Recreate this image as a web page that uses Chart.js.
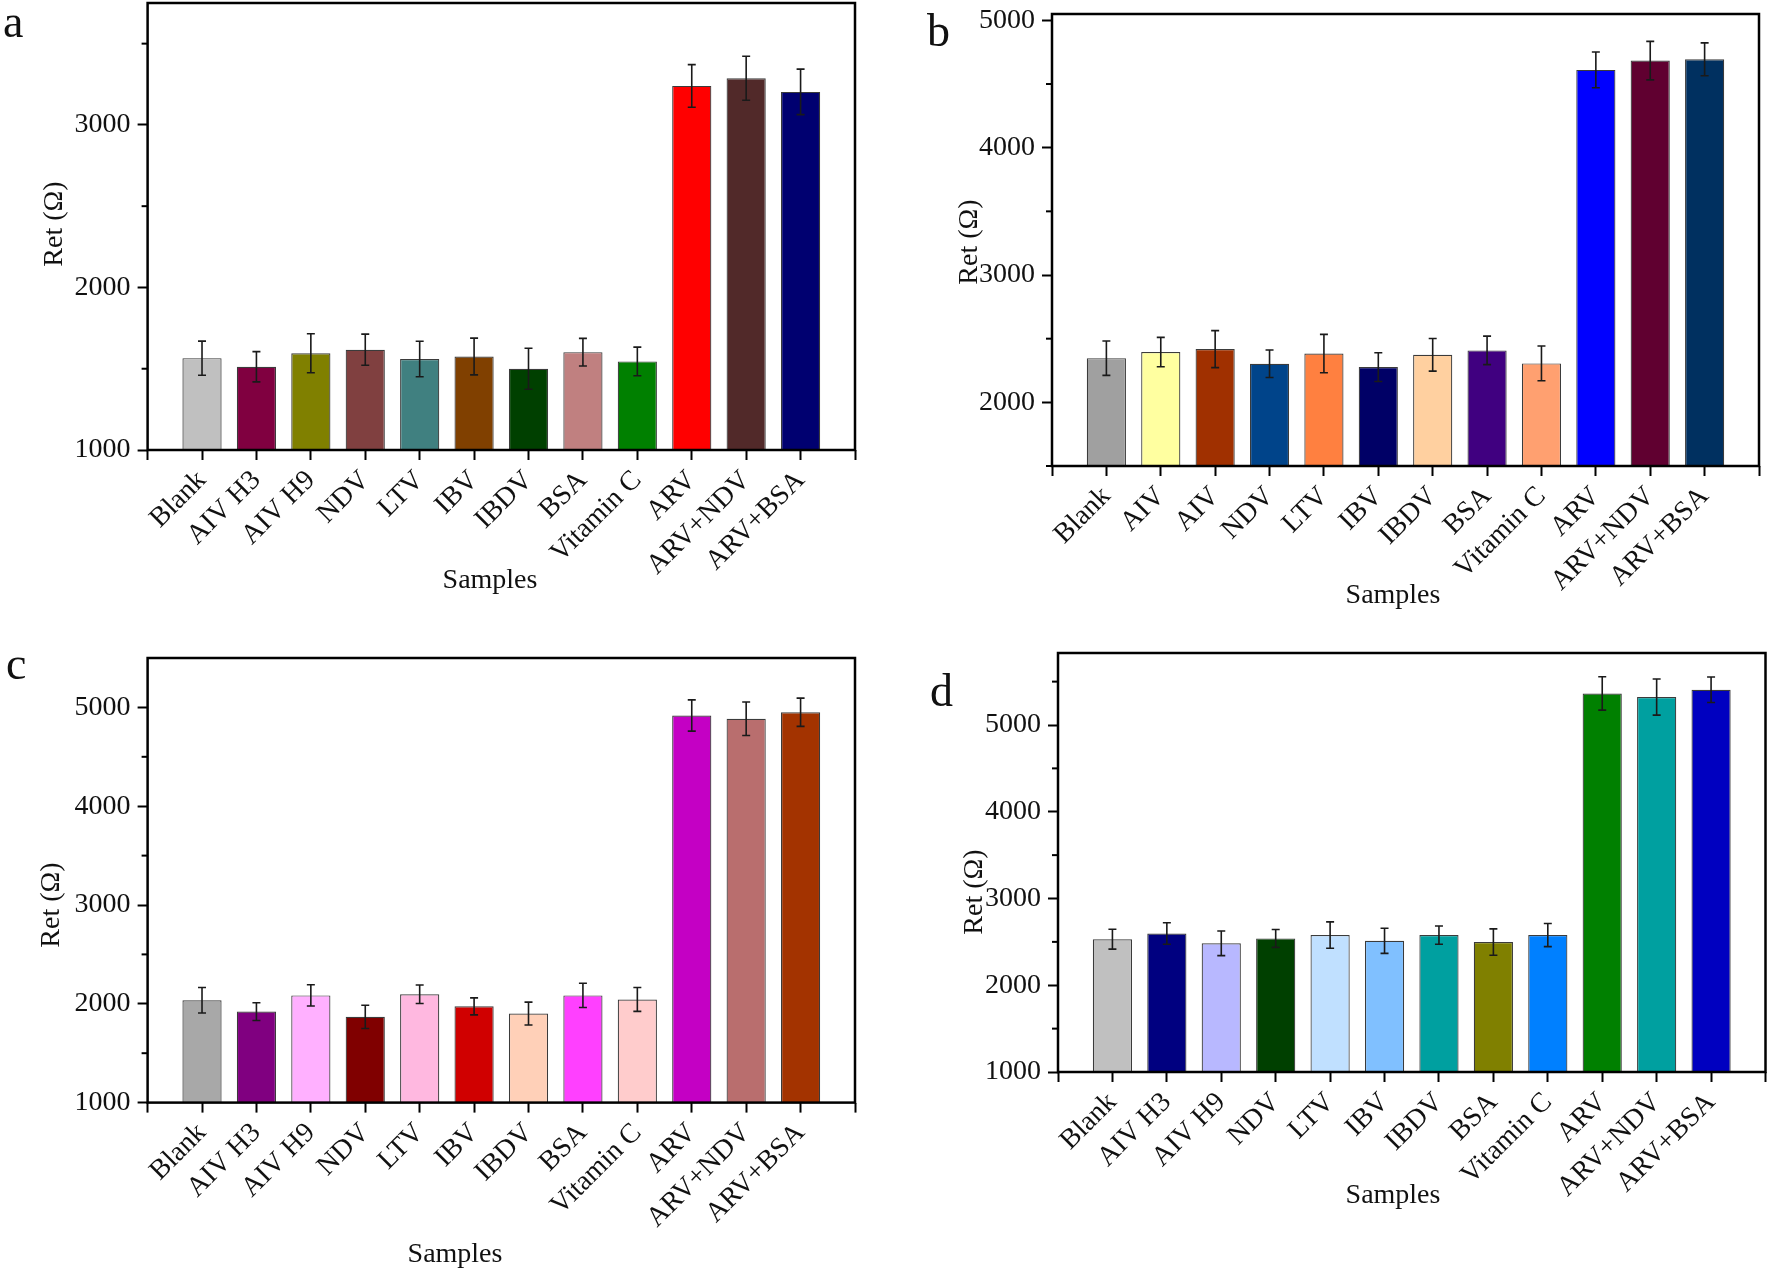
<!DOCTYPE html>
<html>
<head>
<meta charset="utf-8">
<script src="https://cdn.jsdelivr.net/npm/chart.js@4.4.0/dist/chart.umd.min.js"></script>
<style>
body { margin: 0; background: #fff; }
#wrap { position: relative; width: 1770px; height: 1274px; overflow: hidden; }
canvas { position: absolute; }
</style>
</head>
<body>
<div id="wrap">
  <canvas id="chart-a" width="885" height="637" style="left:0;top:0"></canvas>
  <canvas id="chart-b" width="885" height="637" style="left:885px;top:0"></canvas>
  <canvas id="chart-c" width="885" height="637" style="left:0;top:637px"></canvas>
  <canvas id="chart-d" width="885" height="637" style="left:885px;top:637px"></canvas>
</div>
<script>
const samples = ['Blank', 'AIV H3', 'AIV H9', 'NDV', 'LTV', 'IBV', 'IBDV', 'BSA', 'Vitamin C', 'ARV', 'ARV+NDV', 'ARV+BSA'];
const samplesB = ['Blank', 'AIV', 'AIV', 'NDV', 'LTV', 'IBV', 'IBDV', 'BSA', 'Vitamin C', 'ARV', 'ARV+NDV', 'ARV+BSA'];

const retA = [1565, 1512, 1595, 1617, 1560, 1575, 1500, 1602, 1545, 3240, 3287, 3203];
const errA = [105, 93, 120, 96, 109, 113, 126, 85, 88, 131, 135, 140];
const retB = [2347, 2395, 2418, 2303, 2383, 2277, 2373, 2408, 2306, 4611, 4684, 4694];
const errB = [135, 115, 145, 108, 151, 113, 128, 112, 137, 140, 151, 129];
const retC = [2036, 1921, 2085, 1868, 2097, 1974, 1901, 2085, 2044, 4918, 4885, 4951];
const errC = [129, 90, 108, 118, 94, 86, 116, 123, 121, 158, 170, 143];
const retD = [2531, 2596, 2484, 2540, 2578, 2512, 2578, 2498, 2578, 5364, 5322, 5406];
const errD = [115, 124, 142, 103, 152, 145, 105, 152, 133, 192, 208, 147];

const yTicksA = [1000, 2000, 3000];
const yTicksB = [2000, 3000, 4000, 5000];
const yTicksC = [1000, 2000, 3000, 4000, 5000];
const yTicksD = [1000, 2000, 3000, 4000, 5000];

const colorsA = ['#c0c0c0', '#800040', '#808000', '#804040', '#408080', '#804000', '#004000', '#c08080', '#008000', '#ff0000', '#512929', '#000070'];
const colorsB = ['#a0a0a0', '#ffffa0', '#a03000', '#00448a', '#ff8040', '#000066', '#ffd0a0', '#400080', '#ffa070', '#0000ff', '#600030', '#003060'];
const colorsC = ['#a8a8a8', '#800080', '#ffb0ff', '#800000', '#ffb8e0', '#d00000', '#ffd0b8', '#ff40ff', '#ffcccc', '#c400c4', '#b96e6e', '#a33300'];
const colorsD = ['#c0c0c0', '#000080', '#b8b8ff', '#004000', '#c0e0ff', '#80c0ff', '#00a0a0', '#808000', '#0080ff', '#008000', '#00a0a0', '#0000c0'];

const serif = '"Liberation Serif", "Times New Roman", serif';
Chart.defaults.font.family = serif;
Chart.defaults.color = '#111';

// everything Origin draws around the bars: error bars, frame, minor ticks, titles, panel letter
const panelDecor = {
    id: 'panelDecor',
    afterDatasetsDraw(chart, args, opts) {
        const p = opts.panel;
        const ctx = chart.ctx;
        const y = chart.scales.y;
        const area = chart.chartArea;
        const meta = chart.getDatasetMeta(0);
        ctx.save();

        ctx.strokeStyle = '#1a1a1a';
        ctx.lineWidth = 1.6;
        meta.data.forEach((bar, i) => {
            const hi = y.getPixelForValue(p.values[i] + p.errors[i]);
            const lo = y.getPixelForValue(p.values[i] - p.errors[i]);
            ctx.beginPath();
            ctx.moveTo(bar.x, hi); ctx.lineTo(bar.x, lo);
            ctx.moveTo(bar.x - 4, hi); ctx.lineTo(bar.x + 4, hi);
            ctx.moveTo(bar.x - 4, lo); ctx.lineTo(bar.x + 4, lo);
            ctx.stroke();
        });

        ctx.strokeStyle = '#000';
        ctx.lineWidth = 2.5;
        ctx.strokeRect(area.left, area.top, area.right - area.left, area.bottom - area.top);

        ctx.lineWidth = 2;
        for (let v = p.yMin; v < p.yMax; v += 500) {
            if (p.yTicks.includes(v)) continue;
            const py = y.getPixelForValue(v);
            ctx.beginPath();
            ctx.moveTo(area.left - 6, py); ctx.lineTo(area.left, py);
            ctx.stroke();
        }

        ctx.fillStyle = '#111';
        ctx.textAlign = 'center';
        ctx.textBaseline = 'middle';
        ctx.font = '28px ' + serif;
        ctx.fillText('Samples', p.xTitle[0], p.xTitle[1]);
        ctx.save();
        ctx.translate(p.yTitle[0], p.yTitle[1]);
        ctx.rotate(-Math.PI / 2);
        ctx.fillText('Ret (\u03a9)', 0, 0);
        ctx.restore();

        ctx.textAlign = 'left';
        ctx.textBaseline = 'alphabetic';
        ctx.font = '46px ' + serif;
        ctx.fillText(p.letter, p.letterPos[0], p.letterPos[1]);
        ctx.restore();
    }
};

function drawPanel(id, p) {
    const ctx = document.getElementById(id).getContext('2d');
    const W = 885, H = 637;
    const xTicks = [0, ...p.labels.map((_, i) => i + 1), p.labels.length + 1];

    return new Chart(ctx, {
        type: 'bar',
        data: {
            datasets: [{
                data: p.values.map((v, i) => ({ x: i + 1, y: v })),
                backgroundColor: p.colors,
                borderColor: 'rgba(25,25,25,0.85)',
                borderWidth: 1.2,
                barPercentage: 0.72,
                categoryPercentage: 1.0,
            }]
        },
        options: {
            responsive: false,
            animation: false,
            devicePixelRatio: 1,
            layout: { padding: { top: p.area.top, right: W - p.area.right, left: 0, bottom: 0 } },
            plugins: {
                legend: { display: false },
                tooltip: { enabled: false },
                panelDecor: { panel: p }
            },
            scales: {
                x: {
                    type: 'linear',
                    offset: false,
                    min: 0,
                    max: p.labels.length + 1,
                    afterBuildTicks: s => { s.ticks = xTicks.map(v => ({ value: v })); },
                    afterFit: s => { s.height = H - p.area.bottom; s.paddingLeft = 0; s.paddingRight = 0; },
                    grid: { offset: false, drawOnChartArea: false, tickLength: 10, tickWidth: 2, tickColor: '#000' },
                    border: { display: false },
                    ticks: {
                        autoSkip: false,
                        minRotation: 45,
                        maxRotation: 45,
                        padding: 4,
                        font: { size: 28 },
                        callback: v => p.labels[v - 1] || ''
                    }
                },
                y: {
                    min: p.yMin,
                    max: p.yMax,
                    afterBuildTicks: s => { s.ticks = p.yTicks.map(v => ({ value: v })); },
                    afterFit: s => { s.width = p.area.left; s.paddingTop = 0; s.paddingBottom = 0; },
                    grid: { drawOnChartArea: false, tickLength: 10, tickWidth: 2, tickColor: '#000' },
                    border: { display: false },
                    ticks: {
                        padding: 7,
                        font: { size: 28 },
                        callback: v => String(v)
                    }
                }
            }
        },
        plugins: [panelDecor]
    });
}

function drawAll() {
    drawPanel('chart-a', {
        letter: 'a', labels: samples, values: retA, errors: errA, colors: colorsA,
        yMin: 1000, yMax: 3750, yTicks: yTicksA,
        area: { left: 147.6, right: 855, top: 3, bottom: 450 },
        yTitle: [55, 224], xTitle: [490, 581], letterPos: [3, 37]
    });
    drawPanel('chart-b', {
        letter: 'b', labels: samplesB, values: retB, errors: errB, colors: colorsB,
        yMin: 1500, yMax: 5050, yTicks: yTicksB,
        area: { left: 167, right: 874, top: 14, bottom: 466 },
        yTitle: [85, 242], xTitle: [508, 596], letterPos: [42, 46]
    });
    drawPanel('chart-c', {
        letter: 'c', labels: samples, values: retC, errors: errC, colors: colorsC,
        yMin: 1000, yMax: 5500, yTicks: yTicksC,
        area: { left: 147.6, right: 855, top: 21, bottom: 465.6 },
        yTitle: [52, 268], xTitle: [455, 618], letterPos: [6, 42]
    });
    drawPanel('chart-d', {
        letter: 'd', labels: samples, values: retD, errors: errD, colors: colorsD,
        yMin: 1000, yMax: 5830, yTicks: yTicksD,
        area: { left: 173, right: 880.5, top: 16, bottom: 435 },
        yTitle: [90, 255], xTitle: [508, 559], letterPos: [45, 69]
    });
}

document.fonts.load('28px "Liberation Serif"').then(drawAll, drawAll);
</script>
</body>
</html>
